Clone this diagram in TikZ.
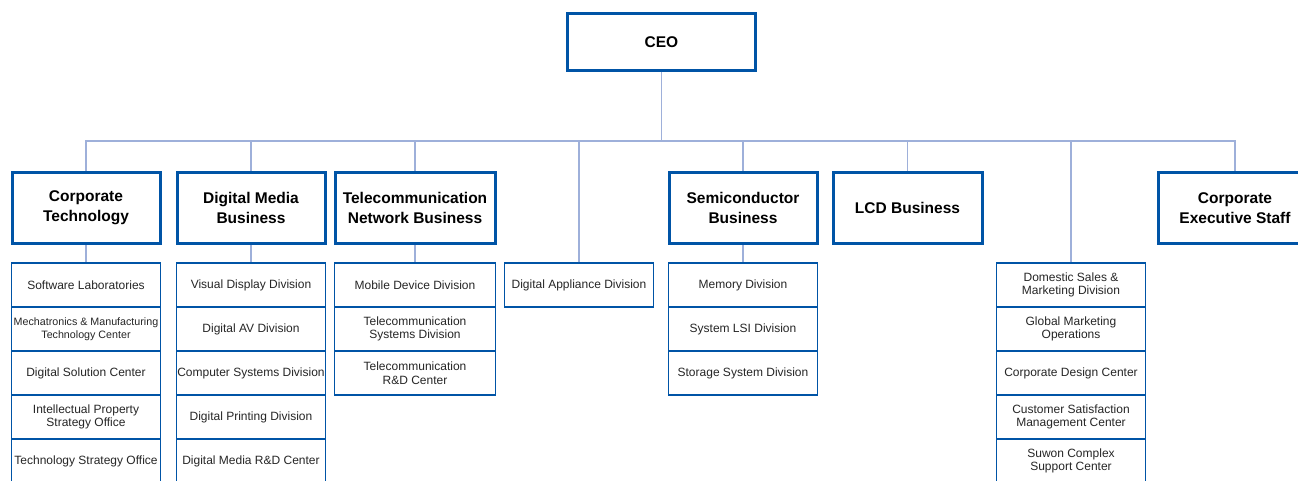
\documentclass[tikz,border=0pt]{standalone}
\usepackage{fontspec}
\setmainfont{Liberation Sans}

\definecolor{orgblue}{RGB}{0,84,166}
\definecolor{linkblue}{RGB}{158,176,218}

\tikzset{
  head/.style={draw=orgblue, line width=3pt, fill=white, minimum width=148pt,
    minimum height=71pt, inner sep=0pt, align=center,
    font=\fontsize{15.5}{20}\selectfont\bfseries},
  unit/.style={draw=orgblue, line width=1.3pt, fill=white, minimum width=149pt,
    minimum height=44pt, inner sep=0pt, align=center, text=black!85,
    font=\fontsize{12}{13.5}\selectfont},
  link/.style={draw=linkblue, line width=1.3pt}
}

\begin{document}
\begin{tikzpicture}[x=1pt,y=-1pt]
			\useasboundingbox (0,0) rectangle (1298,481);
			\clip (0,0) rectangle (1298,481);

			\node[head, minimum width=188pt, minimum height=57pt] (ceo) at (661.5,42) {CEO};
			\coordinate (bus) at (661.5,141);

			\node[head] (ct) at (86,208) {Corporate\\Technology};
			\node[head] (dm) at (251,208) {Digital Media\\Business};
			\node[head, minimum width=160pt] (tn) at (415,208) {Telecommunication\\Network Business};
			\node[head] (sc) at (743,208) {Semiconductor\\Business};
			\node[head, minimum width=149pt] (lcd) at (907.5,208) {LCD Business};
			\node[head, minimum width=154pt] (ces) at (1235,208) {Corporate\\Executive Staff};

			\node[unit] (ct1) at (86,285) {Software Laboratories};
			\node[unit, font=\fontsize{10.7}{13}\selectfont] (ct2) at (86,329) {Mechatronics \& Manufacturing\\Technology Center};
			\node[unit] (ct3) at (86,373) {Digital Solution Center};
			\node[unit] (ct4) at (86,417) {Intellectual Property\\Strategy Office};
			\node[unit] (ct5) at (86,461) {Technology Strategy Office};

			\node[unit] (dm1) at (251,285) {Visual Display Division};
			\node[unit] (dm2) at (251,329) {Digital AV Division};
			\node[unit] (dm3) at (251,373) {Computer Systems Division};
			\node[unit] (dm4) at (251,417) {Digital Printing Division};
			\node[unit] (dm5) at (251,461) {Digital Media R\&D Center};

			\node[unit, minimum width=161pt] (tn1) at (415,285) {Mobile Device Division};
			\node[unit, minimum width=161pt] (tn2) at (415,329) {Telecommunication\\Systems Division};
			\node[unit, minimum width=161pt] (tn3) at (415,373) {Telecommunication\\R\&D Center};

			\node[unit] (da1) at (579,285) {Digital Appliance Division};

			\node[unit] (sc1) at (743,285) {Memory Division};
			\node[unit] (sc2) at (743,329) {System LSI Division};
			\node[unit] (sc3) at (743,373) {Storage System Division};

			\node[unit] (sa1) at (1071,285) {Domestic Sales \&\\Marketing Division};
			\node[unit] (sa2) at (1071,329) {Global Marketing\\Operations};
			\node[unit] (sa3) at (1071,373) {Corporate Design Center};
			\node[unit] (sa4) at (1071,417) {Customer Satisfaction\\Management Center};
			\node[unit] (sa5) at (1071,461) {Suwon Complex\\Support Center};

			% connectors
			\draw[link] (ceo.south) -- (bus);
			\foreach \h in {ct,dm,tn,sc,lcd,ces,da1,sa1}
				\draw[link] (\h.north) |- (bus);
			\foreach \h in {ct,dm,tn,sc}
				\draw[link] (\h.south) -- (\h1.north);
\end{tikzpicture}
\end{document}
